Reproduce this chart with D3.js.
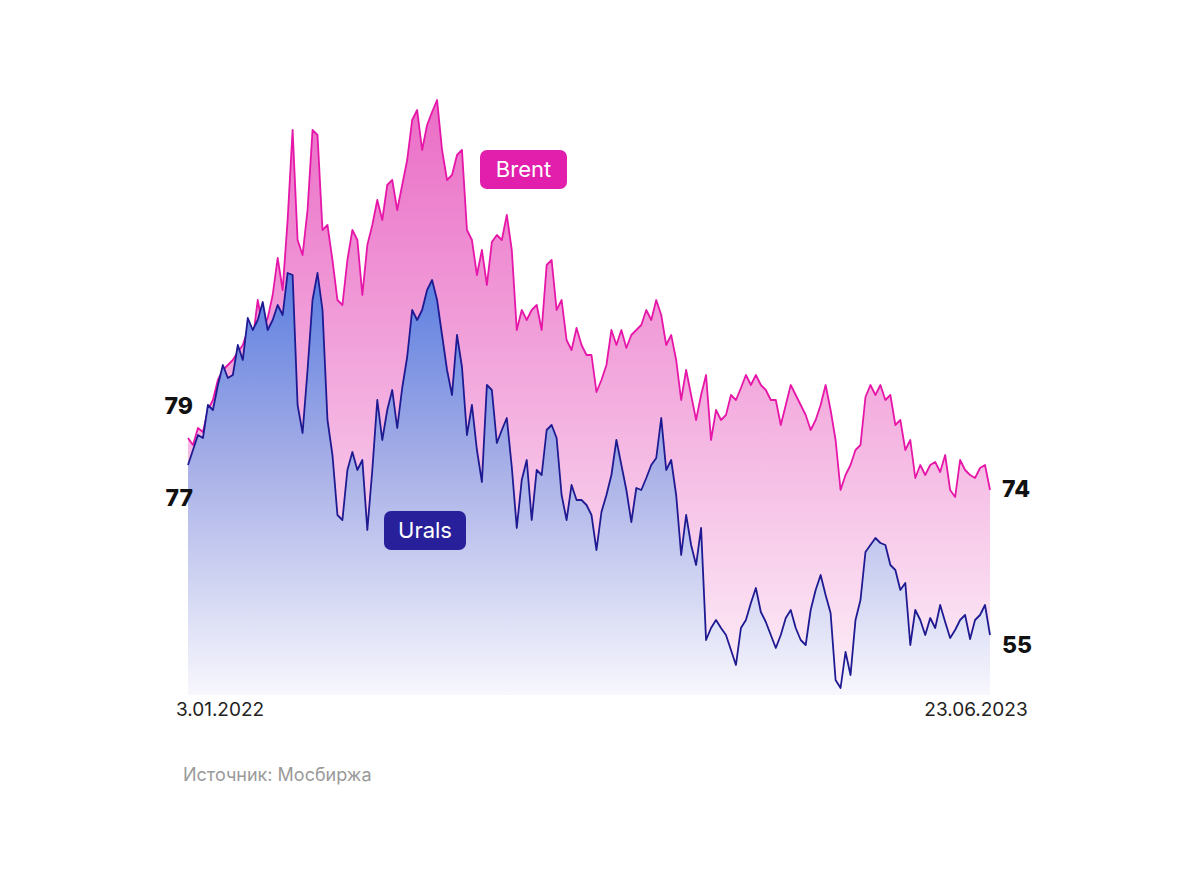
<!DOCTYPE html>
<html><head><meta charset="utf-8">
<script src="https://cdn.jsdelivr.net/npm/d3@7"></script>
<style>body{margin:0;background:#fff}svg{display:block;font-family:Inter,"Noto Sans",sans-serif}</style>
</head><body><svg id="c" width="1200" height="887"></svg>
<script>
const brent=[79.0,78.3,80.0,79.6,81.8,82.8,84.8,85.8,86.3,86.8,87.6,88.3,89.8,88.8,92.8,90.0,91.0,93.3,97.0,93.8,100.8,109.8,98.8,97.3,101.8,109.8,109.3,99.8,100.3,96.8,92.8,92.3,96.8,99.8,98.8,93.3,98.3,100.3,102.8,100.8,104.3,104.8,101.8,104.3,106.8,110.8,111.8,107.8,110.3,111.6,112.8,107.8,104.8,105.3,107.3,107.8,99.8,98.8,95.3,97.8,94.3,98.6,99.3,98.8,101.3,97.8,89.8,91.8,90.8,91.8,92.3,89.8,96.3,96.8,91.8,92.8,88.8,87.8,90.0,88.3,87.3,87.3,83.6,84.8,86.3,89.8,88.3,89.8,88.0,89.3,89.8,90.3,91.8,90.8,92.8,91.3,88.3,89.3,86.8,82.8,85.8,83.3,80.8,83.3,85.3,78.8,81.8,80.8,81.3,83.3,82.8,84.0,85.3,84.3,85.3,84.3,83.8,82.8,82.8,80.3,82.3,84.3,83.3,82.3,81.3,79.8,80.8,82.3,84.3,81.8,78.8,73.8,75.3,76.3,77.8,78.3,83.1,84.3,83.3,84.3,82.8,83.3,80.3,80.8,77.8,78.8,75.0,76.3,75.3,76.3,76.6,75.6,77.3,73.8,73.1,76.8,75.8,75.3,75.0,76.0,76.3,73.8];
const urals=[76.3,77.8,79.3,79.0,82.3,81.8,84.3,86.3,85.0,85.3,88.3,86.8,91.0,89.8,90.8,92.6,89.8,90.8,92.3,91.3,95.5,95.3,82.3,79.5,85.8,92.8,95.5,91.8,80.8,77.3,71.3,70.8,75.8,77.6,75.8,76.8,69.8,75.8,82.8,78.8,81.8,83.8,80.0,84.0,87.1,91.8,90.8,91.8,93.8,94.8,92.8,89.3,85.8,83.3,89.3,86.1,79.3,82.3,77.8,74.6,84.3,83.8,78.5,79.8,81.0,76.1,70.0,74.8,76.8,70.8,75.8,75.3,79.8,80.3,79.0,73.3,70.8,74.3,72.8,72.8,72.3,71.3,67.8,71.6,73.3,75.3,78.8,76.3,73.8,70.6,74.0,73.8,75.0,76.3,77.0,81.0,75.8,76.8,73.3,67.3,71.3,68.3,66.3,70.0,58.8,60.0,60.8,60.0,59.3,57.8,56.3,60.0,60.8,62.5,64.0,61.6,60.6,59.3,58.0,59.3,61.0,61.8,60.0,58.8,58.3,61.8,63.8,65.3,63.3,61.5,54.8,54.0,57.6,55.3,60.8,62.8,67.6,68.3,69.0,68.5,68.3,66.3,65.8,63.8,64.5,58.3,61.8,60.8,59.3,61.0,60.0,62.3,60.6,59.0,59.8,60.8,61.3,58.9,60.8,61.3,62.3,59.3];
const dateLabels=["3.01.2022","23.06.2023"];
const endLabels={brent:["79","74"],urals:["77","55"]};
const source="Источник: Мосбиржа";

const svg=d3.select("#c");
const y=d3.scaleLinear().domain([52.8,113.8]).range([700,90]);
const base=695;
const defs=svg.append("defs");
function grad(id,stops){const g=defs.append("linearGradient").attr("id",id).attr("gradientUnits","userSpaceOnUse").attr("x1",0).attr("x2",0).attr("y1",95).attr("y2",base);
 stops.forEach(s=>g.append("stop").attr("offset",s[0]).attr("stop-color",s[1]).attr("stop-opacity",s[2]));}
grad("gb",[[0,"#ea6cc6",1],[0.45,"#f2a6dc",1],[1,"#fdf0f8",1]]);
grad("gu",[[0.3,"#5b7ee0",1],[0.6,"#a3ace6",1],[1,"#f8f7fd",1]]);
function draw(data,fill,stroke){
 const x=d3.scaleLinear().domain([0,data.length-1]).range([188,990]);
 svg.append("path").datum(data).attr("fill",fill).attr("d",d3.area().x((d,i)=>x(i)).y0(base).y1(d=>y(d)));
 svg.append("path").datum(data).attr("fill","none").attr("stroke",stroke).attr("stroke-width",1.8).attr("stroke-linejoin","round").attr("d",d3.line().x((d,i)=>x(i)).y(d=>y(d)));
}
draw(brent,"url(#gb)","#e616a8");
draw(urals,"url(#gu)","#1e1a92");

function num(t,xx,yy,anchor){svg.append("text").attr("x",xx).attr("y",yy).attr("text-anchor",anchor).attr("font-size",23).attr("font-weight",800).attr("fill","#111").text(t);}
num(endLabels.brent[0],193,414,"end");
num(endLabels.urals[0],193,506,"end");
num(endLabels.brent[1],1002,497,"start");
num(endLabels.urals[1],1002,653,"start");
svg.append("text").attr("x",220).attr("y",716).attr("text-anchor","middle").attr("font-size",19).attr("fill","#222").text(dateLabels[0]);
svg.append("text").attr("x",976).attr("y",716).attr("text-anchor","middle").attr("font-size",19).attr("fill","#222").text(dateLabels[1]);
svg.append("text").attr("x",183).attr("y",781).attr("font-size",18).attr("fill","#9a9a9a").text(source);
function tag(t,xx,yy,w,col){svg.append("rect").attr("x",xx).attr("y",yy).attr("width",w).attr("height",39).attr("rx",7).attr("fill",col);
 svg.append("text").attr("x",xx+w/2).attr("y",yy+27).attr("text-anchor","middle").attr("font-size",22).attr("fill","#fff").text(t);}
tag("Brent",480,150,87,"#e11fac");
tag("Urals",384,511,82,"#28209a");
</script></body></html>
